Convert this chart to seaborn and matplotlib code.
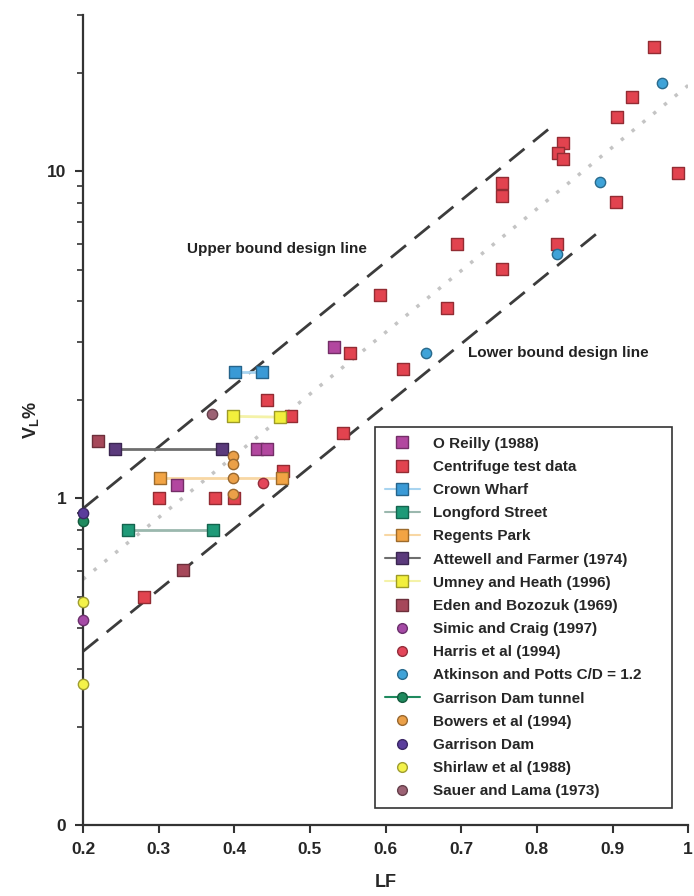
# ============================================================
# CELL 1 - Import library
# ============================================================
import matplotlib
matplotlib.use('Agg')
import matplotlib.pyplot as plt
import matplotlib.colors as mcolors
from matplotlib.lines import Line2D
from matplotlib.ticker import FixedLocator, LogLocator, NullFormatter
import seaborn as sns


# ============================================================
# CELL 2 - Data
# ============================================================
centrifuge_lf = [0.30, 0.375, 0.40, 0.28, 0.443, 0.475, 0.465, 0.544, 0.553, 0.593,
                 0.623, 0.681, 0.695, 0.754, 0.754, 0.754, 0.827, 0.835, 0.828, 0.835,
                 0.904, 0.906, 0.926, 0.955, 0.986]
centrifuge_vl = [1.0, 1.0, 1.0, 0.50, 2.0, 1.78, 1.21, 1.58, 2.78, 4.19,
                 2.49, 3.83, 6.0, 5.04, 9.2, 8.4, 6.0, 12.2, 11.4, 10.9,
                 8.05, 14.7, 16.9, 24.0, 9.9]

oreilly_lf = [0.532, 0.430, 0.443, 0.324]
oreilly_vl = [2.9, 1.41, 1.41, 1.10]

crown_lf = [0.401, 0.437]
crown_vl = [2.43, 2.43]

longford_lf = [0.26, 0.372]
longford_vl = [0.80, 0.80]

regents_lf = [0.302, 0.463]
regents_vl = [1.15, 1.15]

attewell_lf = [0.242, 0.384]
attewell_vl = [1.41, 1.41]

umney_lf = [0.398, 0.461]
umney_vl = [1.78, 1.77]

eden_lf = [0.22, 0.332]
eden_vl = [1.50, 0.605]

simic_lf = [0.2]
simic_vl = [0.425]

harris_lf = [0.438]
harris_vl = [1.11]

atkinson_lf = [0.654, 0.827, 0.884, 0.966]
atkinson_vl = [2.79, 5.6, 9.3, 18.6]

gdt_lf = [0.2]
gdt_vl = [0.85]

bowers_lf = [0.398, 0.398, 0.398, 0.398]
bowers_vl = [1.35, 1.27, 1.15, 1.03]

gdam_lf = [0.2]
gdam_vl = [0.9]

shirlaw_lf = [0.2, 0.2]
shirlaw_vl = [0.48, 0.27]

sauer_lf = [0.371]
sauer_vl = [1.81]

# garis desain
upper_lf = [0.2, 0.818]
upper_vl = [0.93, 13.6]
lower_lf = [0.2, 0.881]
lower_vl = [0.34, 6.5]
mid_lf = [0.2, 1.0]
mid_vl = [0.565, 18.3]

x_ticks = [0.2, 0.3, 0.4, 0.5, 0.6, 0.7, 0.8, 0.9, 1.0]
x_labels = ['0.2', '0.3', '0.4', '0.5', '0.6', '0.7', '0.8', '0.9', '1']
y_ticks = [0.1, 1, 10]
y_labels = ['0', '1', '10']


# ============================================================
# CELL 3 - Style
# ============================================================
sns.set_style('ticks')
plt.rcParams['font.family'] = ['Liberation Sans', 'DejaVu Sans']
plt.rcParams['font.weight'] = 'bold'
plt.rcParams['axes.labelweight'] = 'bold'
plt.rcParams['mathtext.fontset'] = 'custom'
plt.rcParams['mathtext.rm'] = 'Liberation Sans:bold'
plt.rcParams['mathtext.default'] = 'regular'

fig = plt.figure(figsize=(6.94, 8.96), dpi=100)
ax = fig.add_axes([0.1196, 0.079, 0.872, 0.904])


def darker(c, f=0.65):
    r, g, b = mcolors.to_rgb(c)
    return (r * f, g * f, b * f)


# (label, lf, vl, warna, marker, warna garis atau None)
series = [
    ('O Reilly (1988)', oreilly_lf, oreilly_vl, '#b2479f', 's', None),
    ('Centrifuge test data', centrifuge_lf, centrifuge_vl, '#e2434f', 's', None),
    ('Crown Wharf', crown_lf, crown_vl, '#3a9ad6', 's', '#a8d4f0'),
    ('Longford Street', longford_lf, longford_vl, '#1f9a78', 's', '#9bb8ae'),
    ('Regents Park', regents_lf, regents_vl, '#f2a444', 's', '#f8d7a4'),
    ('Attewell and Farmer (1974)', attewell_lf, attewell_vl, '#5b3a7c', 's', '#6e6e6e'),
    ('Umney and Heath (1996)', umney_lf, umney_vl, '#f2ef3c', 's', '#f4f2a8'),
    ('Eden and Bozozuk (1969)', eden_lf, eden_vl, '#a6485a', 's', None),
    ('Simic and Craig (1997)', simic_lf, simic_vl, '#a54aa6', 'o', None),
    ('Harris et al (1994)', harris_lf, harris_vl, '#e4465a', 'o', None),
    ('Atkinson and Potts C/D = 1.2', atkinson_lf, atkinson_vl, '#3fa3d8', 'o', None),
    ('Garrison Dam tunnel', gdt_lf, gdt_vl, '#1f8a5e', 'o', '#1f8a5e'),
    ('Bowers et al (1994)', bowers_lf, bowers_vl, '#eba048', 'o', None),
    ('Garrison Dam', gdam_lf, gdam_vl, '#5a3d9c', 'o', None),
    ('Shirlaw et al (1988)', shirlaw_lf, shirlaw_vl, '#f4f24a', 'o', None),
    ('Sauer and Lama (1973)', sauer_lf, sauer_vl, '#9c6274', 'o', None),
]


# ============================================================
# CELL 4 - Plot
# ============================================================
# garis desain
sns.lineplot(x=upper_lf, y=upper_vl, ax=ax, color='#3c3c3c', lw=2.0,
             linestyle=(0, (7, 4)), zorder=1)
sns.lineplot(x=lower_lf, y=lower_vl, ax=ax, color='#3c3c3c', lw=2.0,
             linestyle=(0, (7, 4)), zorder=1)
sns.lineplot(x=mid_lf, y=mid_vl, ax=ax, color='#c4c4c4', lw=2.5,
             linestyle=(0, (1, 3)), zorder=1)

handles = []
for label, lf, vl, col, mk, lcol in series:
    if lcol is not None and len(lf) > 1:
        sns.lineplot(x=lf, y=vl, ax=ax, color=lcol, lw=2.0, sort=False,
                     estimator=None, zorder=2)
    size = 80 if mk == 's' else 55
    sns.scatterplot(x=lf, y=vl, ax=ax, color=col, marker=mk, s=size,
                    edgecolor=darker(col), linewidth=1.0, zorder=3,
                    clip_on=False)
    handles.append(Line2D([0], [0], color=lcol if lcol else 'none', lw=1.5,
                          marker=mk, markersize=8 if mk == 's' else 7,
                          markerfacecolor=col, markeredgecolor=darker(col),
                          label=label))

ax.set_yscale('log')
ax.set_xlim(0.2, 1.0)
ax.set_ylim(0.1, 30)
ax.set_xticks(x_ticks)
ax.set_xticklabels(x_labels)
ax.yaxis.set_major_locator(FixedLocator(y_ticks))
ax.set_yticklabels(y_labels)
ax.yaxis.set_minor_locator(LogLocator(base=10, subs=[2, 3, 4, 5, 6, 7, 8, 9]))
ax.yaxis.set_minor_formatter(NullFormatter())

sns.despine(ax=ax)
for s in ['left', 'bottom']:
    ax.spines[s].set_linewidth(1.6)
    ax.spines[s].set_color('#333333')
ax.tick_params(axis='both', which='major', length=6, width=1.5,
               color='#333333', labelsize=12.5, pad=6)
ax.tick_params(axis='y', which='minor', length=4, width=1.2, color='#333333')

ax.set_xlabel('LF', fontsize=13, labelpad=12)
ax.set_ylabel('V$_L$%', fontsize=13, labelpad=4)

ax.text(0.338, 5.8, 'Upper bound design line', fontsize=11, va='center',
        color='#222222')
ax.text(0.709, 2.79, 'Lower bound design line', fontsize=11, va='center',
        color='#222222')

leg = ax.legend(handles=handles, loc='lower left',
                bbox_to_anchor=(0.540, 0.098, 0.428, 0.424),
                bbox_transform=fig.transFigure, mode='expand',
                frameon=True, fancybox=False, framealpha=1,
                edgecolor='#333333', fontsize=11, handlelength=2.3,
                handletextpad=0.85, labelspacing=0.6, borderpad=0.65,
                borderaxespad=0)
leg.get_frame().set_linewidth(1.2)

plt.savefig('out.png', dpi=100)
